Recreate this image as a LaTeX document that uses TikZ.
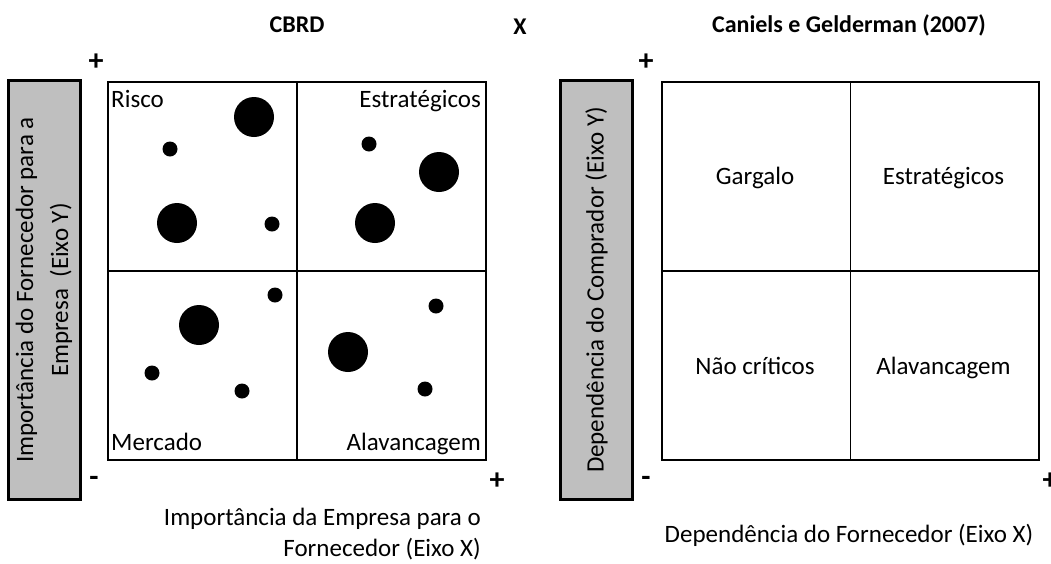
\documentclass[tikz,border=0pt]{standalone}
\usepackage{fontspec}
\setmainfont{Carlito}
\begin{document}
\begin{tikzpicture}[x=1pt,y=-1pt,
  every node/.style={font=\fontsize{25}{35}\selectfont, inner sep=0pt},
  cell/.style={draw, line width=1.8pt, minimum width=189pt, minimum height=189pt, anchor=north west},
  rcell/.style={draw, line width=1.8pt, minimum width=188.5pt, minimum height=189pt, anchor=north west},
  greybox/.style={draw, fill=black!25, line width=3pt, rotate=90, minimum width=419pt, minimum height=72pt, align=center},
  title/.style={font=\fontsize{24}{28}\selectfont\bfseries},
  sign/.style={font=\fontsize{30}{34}\selectfont\bfseries},
  big/.style={circle, fill=black, minimum size=40pt},
  small/.style={circle, fill=black, minimum size=15pt}]
\useasboundingbox (0,0) rectangle (1051,563);
% titles
\node[title] (t1) at (297,25) {CBRD};
\node[title] (tx) at (520,27) {X};
\node[title] (t2) at (849,25) {Caniels e Gelderman (2007)};
% left grey box
\node[greybox] (yl) at (44,290) {Importância do Fornecedor para a\\Empresa\ \ (Eixo Y)};
% left matrix
\node[cell] (q1) at (107,81) {};
\node[cell] (q2) at (296,81) {};
\node[cell] (q3) at (107,270) {};
\node[cell] (q4) at (296,270) {};
\node[anchor=base west] (l1) at (111,107) {Risco};
\node[anchor=base east] (l2) at (481,107) {Estratégicos};
\node[anchor=base west] (l3) at (111,450) {Mercado};
\node[anchor=base east] (l4) at (481,450) {Alavancagem};
% circles
\node[big] (c1) at (254,117) {};
\node[small] (c2) at (170,149) {};
\node[big] (c3) at (177,223) {};
\node[small] (c4) at (272,224) {};
\node[small] (c5) at (369,144) {};
\node[big] (c6) at (439,172) {};
\node[big] (c7) at (375,223) {};
\node[small] (c8) at (275,295) {};
\node[big] (c9) at (199,325) {};
\node[small] (c10) at (152,373) {};
\node[small] (c11) at (242,391) {};
\node[small] (c12) at (436,306) {};
\node[big] (c13) at (348,352) {};
\node[small] (c14) at (425,389) {};
% left signs
\node[sign] (p1) at (96,62) {+};
\node[sign] (m1) at (94,481) {-};
\node[sign] (p2) at (497,481) {+};
% left x label
\node[anchor=base east] (xl) at (481,525) {Importância da Empresa para o};
\node[anchor=base east] (xl2) at (481,556) {Fornecedor (Eixo X)};
% right grey box
\node[greybox] (yr) at (596.5,290) {Dependência do Comprador (Eixo Y)};
% right matrix
\node[rcell] (r1) at (661,81) {};
\node[rcell] (r2) at (849.5,81) {};
\node[rcell] (r3) at (661,270) {};
\node[rcell] (r4) at (849.5,270) {};
\node[anchor=base] (g1) at (755,184) {Gargalo};
\node[anchor=base] (g2) at (943.5,184) {Estratégicos};
\node[anchor=base] (g3) at (755,374) {Não críticos};
\node[anchor=base] (g4) at (943.5,374) {Alavancagem};
% right signs
\node[sign] (p3) at (646,62) {+};
\node[sign] (m2) at (646,481) {-};
\node[sign] (p4) at (1050,481) {+};
% right x label
\node (xr) at (849,535) {Dependência do Fornecedor (Eixo X)};
\end{tikzpicture}
\end{document}
